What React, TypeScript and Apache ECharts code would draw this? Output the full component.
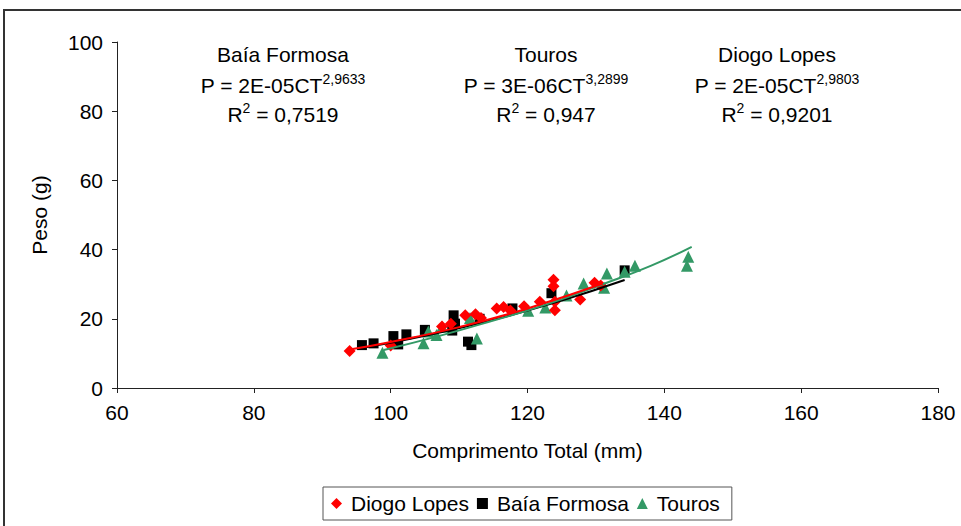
import React, { useEffect, useRef } from "react";
import * as echarts from "echarts";

const diogoLopes: [number, number][] = [
  [94.0, 10.7], [100.0, 12.3], [107.5, 17.8], [108.8, 18.6], [110.9, 21.0], [112.4, 21.3],
  [113.2, 20.2], [115.5, 23.0], [116.5, 23.4], [117.5, 22.4], [119.5, 23.6], [121.8, 24.9],
  [123.8, 31.3], [123.8, 29.4], [124.0, 24.9], [124.0, 22.5], [127.7, 25.6], [129.8, 30.4],
  [130.7, 29.6],
];
const baiaFormosa: [number, number][] = [
  [95.8, 12.4], [97.5, 12.9], [100.4, 15.0], [101.1, 12.6], [102.3, 15.5], [105.0, 16.8],
  [109.2, 21.0], [109.4, 18.6], [109.0, 16.6], [111.3, 13.4], [111.8, 12.4], [113.0, 20.0],
  [117.8, 23.0], [123.5, 27.4], [134.2, 34.0],
];
const touros: [number, number][] = [
  [98.8, 10.2], [104.8, 12.9], [105.5, 16.3], [106.7, 15.3], [107.5, 17.7], [111.6, 20.2],
  [112.6, 14.3], [120.1, 22.3], [122.6, 23.3], [125.7, 26.7], [128.2, 30.2], [131.6, 33.1],
  [131.2, 29.0], [134.2, 33.6], [135.7, 35.3], [143.3, 35.3], [143.5, 37.9],
];

// trend lines
const diogoTrend: [number, number][] = [[94, 11.1], [100, 13.3], [110, 17.6], [120, 23.0], [131, 30.2]];
const baiaTrend: [number, number][] = [[96, 11.6], [105, 15.1], [115, 19.7], [125, 25.3], [134.2, 31.2]];
const tourosTrend: [number, number][] = [[99, 11.0], [107, 15.0], [115, 19.5], [123, 24.3], [131, 30.0], [138, 35.3], [144, 40.8]];

const seriesNames = ["Diogo Lopes", "Baía Formosa", "Touros"];
const equations = [
  { name: "Baía Formosa", coef: "2E-05", exp: "2,9633", r2: "0,7519", cx: 283 },
  { name: "Touros", coef: "3E-06", exp: "3,2899", r2: "0,947", cx: 546 },
  { name: "Diogo Lopes", coef: "2E-05", exp: "2,9803", r2: "0,9201", cx: 777 },
];

const RED = "#ff0000";
const BLACK = "#000000";
const GREEN = "#339966";
const FONT = "Liberation Sans, Arial, sans-serif";
const FS = 21;

export default function App() {
  const ref = useRef<HTMLDivElement>(null);
  useEffect(() => {
    if (!ref.current) return;
    const chart = echarts.init(ref.current, undefined, { renderer: "svg" });
    const richBase = {
      m: { fontSize: FS, fontFamily: FONT, color: "#000", lineHeight: 24, verticalAlign: "bottom" },
      s: { fontSize: 14, fontFamily: FONT, color: "#000", lineHeight: 24, verticalAlign: "top" },
    };
    const graphics: any[] = [
      {
        type: "rect",
        shape: { x: 4, y: 10, width: 1000, height: 1000 },
        style: { fill: "none", stroke: "#333", lineWidth: 2 },
        silent: true,
      },
    ];
    equations.forEach((e) => {
      graphics.push({
        type: "text",
        x: e.cx,
        y: 54,
        style: { text: e.name, font: `${FS}px ${FONT}`, fill: "#000", align: "center", verticalAlign: "middle" },
      });
      graphics.push({
        type: "text",
        x: e.cx,
        y: 84,
        style: {
          text: `{m|P = ${e.coef}CT}{s|${e.exp}}`,
          rich: richBase,
          align: "center",
          verticalAlign: "middle",
        },
      });
      graphics.push({
        type: "text",
        x: e.cx,
        y: 113,
        style: {
          text: `{m|R}{s|2}{m| = ${e.r2}}`,
          rich: richBase,
          align: "center",
          verticalAlign: "middle",
        },
      });
    });

    chart.setOption({
      animation: false,
      backgroundColor: "#fff",
      textStyle: { fontFamily: FONT },
      grid: { left: 117, right: 23, top: 42, bottom: 138 },
      graphic: graphics,
      legend: {
        data: [
          { name: seriesNames[0], icon: "diamond", itemStyle: { color: RED } },
          { name: seriesNames[1], icon: "rect", itemStyle: { color: BLACK } },
          { name: seriesNames[2], icon: "triangle", itemStyle: { color: GREEN } },
        ],
        left: 323,
        top: 487,
        itemWidth: 11,
        itemHeight: 11,
        itemGap: 8,
        padding: [6, 12, 6, 8],
        borderColor: "#555",
        borderWidth: 1,
        textStyle: { fontSize: FS, fontFamily: FONT, color: "#000", padding: [0, 0, 0, 4] },
      },
      xAxis: {
        type: "value",
        min: 60,
        max: 180,
        interval: 20,
        name: "Comprimento Total (mm)",
        nameLocation: "middle",
        nameGap: 52,
        nameTextStyle: { fontSize: FS, fontFamily: FONT, color: "#000" },
        axisLine: { show: true, lineStyle: { color: "#222", width: 1 } },
        axisTick: { show: true, length: 5, lineStyle: { color: "#222" } },
        axisLabel: { fontSize: FS, fontFamily: FONT, color: "#000", margin: 14 },
        splitLine: { show: false },
      },
      yAxis: {
        type: "value",
        min: 0,
        max: 100,
        interval: 20,
        name: "Peso (g)",
        nameLocation: "middle",
        nameGap: 67,
        nameTextStyle: { fontSize: FS, fontFamily: FONT, color: "#000" },
        axisLine: { show: true, lineStyle: { color: "#222", width: 1 } },
        axisTick: { show: true, length: 5, lineStyle: { color: "#222" } },
        axisLabel: { fontSize: FS, fontFamily: FONT, color: "#000", margin: 14 },
        splitLine: { show: false },
      },
      series: [
        { name: "tr-bf", type: "line", data: baiaTrend, smooth: true, showSymbol: false, lineStyle: { color: BLACK, width: 2 }, z: 3 },
        { name: "tr-to", type: "line", data: tourosTrend, smooth: true, showSymbol: false, lineStyle: { color: GREEN, width: 2 }, z: 3 },
        { name: "tr-dl", type: "line", data: diogoTrend, smooth: true, showSymbol: false, lineStyle: { color: RED, width: 2 }, z: 3 },
        { name: seriesNames[1], type: "scatter", symbol: "rect", symbolSize: 10, data: baiaFormosa, itemStyle: { color: BLACK, opacity: 1 }, z: 2 },
        { name: seriesNames[2], type: "scatter", symbol: "triangle", symbolSize: 12, data: touros, itemStyle: { color: GREEN, opacity: 1 }, z: 2 },
        { name: seriesNames[0], type: "scatter", symbol: "diamond", symbolSize: 12, data: diogoLopes, itemStyle: { color: RED, opacity: 1 }, z: 2 },
      ],
    });
    return () => chart.dispose();
  }, []);
  return <div ref={ref} style={{ width: 961, height: 526, position: "absolute", left: 0, top: 0 }} />;
}
